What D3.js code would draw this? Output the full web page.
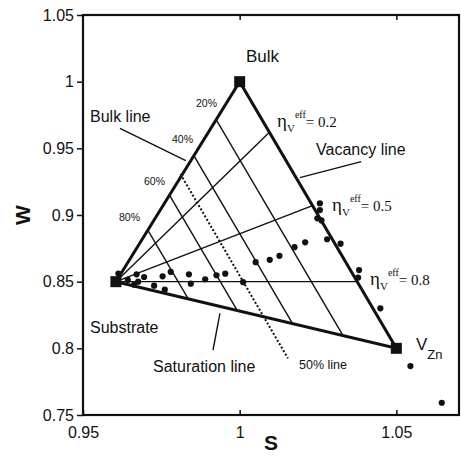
<!DOCTYPE html>
<html>
<head>
<meta charset="utf-8">
<script src="https://cdn.jsdelivr.net/npm/d3@7"></script>
<style>
  body { margin: 0; background: #fff; }
  svg text { font-family: "Liberation Sans", Arial, sans-serif; fill: #111; }
  svg text.serif { font-family: "Liberation Serif", "Times New Roman", serif; }
</style>
</head>
<body>
<svg id="chart" width="461" height="464"></svg>
<script>
// measured points (S, W)
var sValues = [0.9613, 0.9643, 0.9671, 0.9695, 0.9676, 0.9663, 0.9727, 0.9754, 0.9780, 0.9761,
  0.9838, 0.9844, 0.9890, 0.9926, 0.9954, 1.0011, 1.0051, 1.0096, 1.0127, 1.0175,
  1.0209, 1.0279, 1.0322, 1.0256, 1.0256, 1.0248, 1.0261, 1.0381, 1.0378, 1.0449,
  1.0545, 1.0645];
var wValues = [0.8561, 0.8513, 0.8555, 0.8535, 0.8500, 0.8477, 0.8470, 0.8540, 0.8573, 0.8440,
  0.8555, 0.8485, 0.8518, 0.8548, 0.8560, 0.8496, 0.8646, 0.8664, 0.8694, 0.8759,
  0.8795, 0.8818, 0.8785, 0.9088, 0.9037, 0.8975, 0.8959, 0.8587, 0.8531, 0.8300,
  0.7867, 0.7592];

// triangle corners: substrate, bulk, V_Zn
var vertexS = [0.9605, 1.0, 1.05];
var vertexW = [0.85, 1.0, 0.80];

// eta lines: substrate -> point on bulk-vacancy edge (fraction from bulk)
var etaLabels = ["0.2", "0.5", "0.8"];
var etaFractions = [0.19, 0.465, 0.75];

// percent lines, parallel to the vacancy line (fraction from bulk / from V_Zn)
var percentLabels = ["20%", "40%", "60%", "80%"];
var percentFractions = [0.19, 0.37, 0.567, 0.742];

// 50% line end points
var fiftyS = [0.9811, 1.0154];
var fiftyW = [0.9307, 0.7925];

var xTicks = [0.95, 1, 1.05];
var xTickLabels = ["0.95", "1", "1.05"];
var yTicks = [0.75, 0.8, 0.85, 0.9, 0.95, 1, 1.05];
var yTickLabels = ["0.75", "0.8", "0.85", "0.9", "0.95", "1", "1.05"];

var svg = d3.select("svg"),
  margin = { top: 15, right: 2, bottom: 49, left: 83 },
  width = +svg.attr("width") - margin.left - margin.right,
  height = +svg.attr("height") - margin.top - margin.bottom;

var x = d3.scaleLinear().domain([0.95, 1.07]).range([0, width]),
  y = d3.scaleLinear().domain([0.75, 1.05]).range([height, 0]);

var g = svg.append("g")
  .attr("transform", "translate(" + margin.left + "," + margin.top + ")");

var ink = "#111";

// axes
var xAxis = g.append("g")
  .attr("transform", "translate(0," + height + ")")
  .call(d3.axisBottom(x).tickValues(xTicks)
    .tickFormat(function (d, i) { return xTickLabels[i]; })
    .tickSize(-5).tickPadding(11.5));

var topAxis = g.append("g")
  .call(d3.axisTop(x).tickValues(xTicks.slice(1)).tickFormat("").tickSize(-5));

var yAxis = g.append("g")
  .call(d3.axisLeft(y).tickValues(yTicks)
    .tickFormat(function (d, i) { return yTickLabels[i]; })
    .tickSize(6).tickPadding(3));

[xAxis, topAxis, yAxis].forEach(function (a) {
  a.select(".domain").remove();
  a.selectAll("line").attr("stroke", ink).attr("stroke-width", 1.5);
  a.selectAll("text").attr("font-size", 16).attr("font-family", null).attr("fill", "#222");
});

g.append("rect")
  .attr("width", width).attr("height", height)
  .attr("fill", "none").attr("stroke", ink).attr("stroke-width", 2.2);

g.append("text")
  .attr("x", width / 2).attr("y", height + 35)
  .attr("text-anchor", "middle")
  .attr("font-size", 21).attr("font-weight", "bold")
  .text("S");

g.append("text")
  .attr("transform", "translate(" + (-53) + "," + (height / 2) + ") rotate(-90)")
  .attr("text-anchor", "middle")
  .attr("font-size", 21).attr("font-weight", "bold")
  .text("W");

// helpers in data space
function lerp(a, b, t) { return [a[0] + (b[0] - a[0]) * t, a[1] + (b[1] - a[1]) * t]; }
var sub = [vertexS[0], vertexW[0]],
  bulk = [vertexS[1], vertexW[1]],
  vac = [vertexS[2], vertexW[2]];

var line = d3.line()
  .x(function (d) { return x(d[0]); })
  .y(function (d) { return y(d[1]); });

// thin grid inside triangle
var grid = [];
etaFractions.forEach(function (t) { grid.push([sub, lerp(bulk, vac, t)]); });
percentFractions.forEach(function (u) { grid.push([lerp(bulk, sub, u), lerp(vac, sub, u)]); });

g.selectAll(".grid")
  .data(grid)
  .enter()
  .append("path")
  .attr("class", "grid")
  .attr("d", line)
  .attr("fill", "none").attr("stroke", ink).attr("stroke-width", 1.4);

g.append("path")
  .attr("d", line([[fiftyS[0], fiftyW[0]], [fiftyS[1], fiftyW[1]]]))
  .attr("fill", "none").attr("stroke", ink)
  .attr("stroke-width", 2).attr("stroke-dasharray", "2,2");

// leader lines for the edge names
var leaders = [
  [[0.9618, 0.965], [0.9828, 0.9407]],
  [[1.0388, 0.940], [1.0192, 0.928]],
  [[0.9937, 0.8263], [0.9915, 0.7987]]
];
g.selectAll(".leader")
  .data(leaders)
  .enter()
  .append("path")
  .attr("class", "leader")
  .attr("d", line)
  .attr("stroke", ink).attr("stroke-width", 1.4);

// triangle
g.append("path")
  .attr("d", line([sub, bulk, vac]) + "Z")
  .attr("fill", "none").attr("stroke", ink)
  .attr("stroke-width", 3).attr("stroke-linejoin", "miter");

// data points
g.selectAll(".dot")
  .data(sValues)
  .enter()
  .append("circle")
  .attr("class", "dot")
  .attr("cx", function (d) { return x(d); })
  .attr("cy", function (d, i) { return y(wValues[i]); })
  .attr("r", 3.1)
  .attr("fill", ink);

g.selectAll(".corner")
  .data(vertexS)
  .enter()
  .append("rect")
  .attr("class", "corner")
  .attr("x", function (d) { return x(d) - 5.5; })
  .attr("y", function (d, i) { return y(vertexW[i]) - 5.5; })
  .attr("width", 11).attr("height", 11)
  .attr("fill", ink);

// text labels (svg coords)
var labels = svg.append("g");
function label(txt, px, py, size) {
  return labels.append("text").attr("x", px).attr("y", py)
    .attr("font-size", size).text(txt);
}
label("Bulk", 246, 62, 17);
label("Bulk line", 90, 122, 16);
label("Vacancy line", 316, 155, 16);
label("Substrate", 90, 333, 16);
label("Saturation line", 153, 372, 16);
label("50% line", 299, 369, 12.5);

var pctPos = [[196, 107], [172, 143], [144, 185], [119, 221]];
percentLabels.forEach(function (p, i) {
  label(p, pctPos[i][0], pctPos[i][1], 10.5);
});

var vz = labels.append("text").attr("x", 416).attr("y", 350).attr("font-size", 17);
vz.append("tspan").text("V");
vz.append("tspan").attr("font-size", 13).attr("dy", 9).text("Zn");

var etaPos = [[277, 127], [332, 211], [370, 285]];
etaLabels.forEach(function (v, i) {
  var t = labels.append("text").attr("class", "serif")
    .attr("x", etaPos[i][0]).attr("y", etaPos[i][1]).attr("font-size", 15);
  t.append("tspan").attr("font-size", 19).text("\u03b7");
  t.append("tspan").attr("font-size", 11).attr("dy", 5).text("V");
  t.append("tspan").attr("font-size", 10).attr("dy", -14).text("eff");
  t.append("tspan").attr("dy", 9).text("= " + v);
});
</script>
</body>
</html>
